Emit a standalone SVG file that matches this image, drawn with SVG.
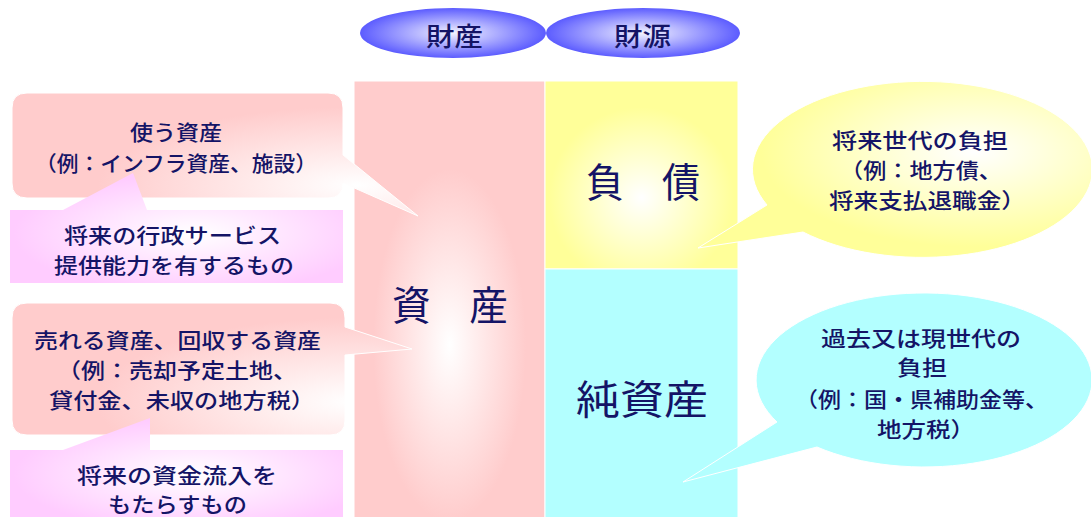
<svg xmlns="http://www.w3.org/2000/svg" width="1091" height="517" viewBox="0 0 1091 517">
<defs>
<radialGradient id="gBlue" cx="0.5" cy="0.5" r="0.5">
<stop offset="0" stop-color="#f4f4ff"/>
<stop offset="1" stop-color="#5c5cff"/>
</radialGradient>
<radialGradient id="gAsset" cx="0.5" cy="0.6" r="0.5">
<stop offset="0" stop-color="#ffffff"/>
<stop offset="0.8" stop-color="#ffcccc"/>
</radialGradient>
<radialGradient id="gLiab" cx="0.5" cy="0.62" r="0.6">
<stop offset="0" stop-color="#ffffff"/>
<stop offset="0.8" stop-color="#ffff99"/>
</radialGradient>
<radialGradient id="gPink" cx="0.85" cy="0.75" r="0.75">
<stop offset="0" stop-color="#ffffff"/>
<stop offset="0.85" stop-color="#ffcccc"/>
</radialGradient>
<radialGradient id="gLav" cx="0.55" cy="0.55" r="0.6">
<stop offset="0" stop-color="#ffffff"/>
<stop offset="0.9" stop-color="#ffccff"/>
</radialGradient>
<radialGradient id="gYel" cx="0.7" cy="0.4" r="0.6">
<stop offset="0" stop-color="#ffffff"/>
<stop offset="0.9" stop-color="#ffff99"/>
</radialGradient>
</defs>
<style>
text { font-family: "Noto Sans CJK JP", "Noto Sans", sans-serif; fill: #141466; }
.s { font-size: 21px; font-weight: 500; }
.m { font-size: 21px; font-weight: 500; }
.t { font-size: 26px; font-weight: 500; }
.b { font-size: 40px; }
.edge { stroke: #ffffff; stroke-width: 1; }
</style>

<g id="header-zaisan">
<ellipse cx="453" cy="33" rx="93" ry="25" fill="url(#gBlue)"/>
<text class="t" x="426" y="46" textLength="57" lengthAdjust="spacingAndGlyphs">財産</text>
</g>
<g id="header-zaigen">
<ellipse cx="643" cy="33" rx="97" ry="25" fill="url(#gBlue)"/>
<text class="t" x="614" y="46" textLength="57" lengthAdjust="spacingAndGlyphs">財源</text>
</g>

<g id="assets">
<rect x="354" y="81" width="191" height="440" fill="url(#gAsset)" class="edge"/>
<text class="b" x="392" y="320" textLength="116" lengthAdjust="spacingAndGlyphs">資　産</text>
</g>
<g id="liabilities">
<rect x="545" y="81" width="193" height="188" fill="url(#gLiab)" class="edge"/>
<text class="b" x="586" y="197" textLength="114" lengthAdjust="spacingAndGlyphs">負　債</text>
</g>
<g id="net-assets">
<rect x="545" y="269" width="193" height="252" fill="#b3ffff" class="edge"/>
<text class="b" x="576" y="414" textLength="132" lengthAdjust="spacingAndGlyphs">純資産</text>
</g>

<g id="callout-use-assets">
<path d="M27,93 H328 Q343,93 343,108 V155 L418,216 L343,183 Q343,198 328,198 H27 Q12,198 12,183 V108 Q12,93 27,93 Z" fill="url(#gPink)" class="edge"/>
<text class="s" x="130" y="140" textLength="92" lengthAdjust="spacingAndGlyphs">使う資産</text>
<text class="s" x="35" y="171" textLength="282" lengthAdjust="spacingAndGlyphs">（例：インフラ資産、施設）</text>
</g>
<g id="note-service">
<path d="M10,210 H63 L133,173 L147,210 H343 V283 H10 Z" fill="url(#gLav)"/>
<text class="m" x="64" y="243" textLength="217" lengthAdjust="spacingAndGlyphs">将来の行政サービス</text>
<text class="m" x="54" y="273" textLength="240" lengthAdjust="spacingAndGlyphs">提供能力を有するもの</text>
</g>

<g id="callout-sell-assets">
<path d="M27,303 H330 Q345,303 345,318 V327 L412,349 L345,355 V420 Q345,435 330,435 H27 Q12,435 12,420 V318 Q12,303 27,303 Z" fill="url(#gPink)" class="edge"/>
<text class="s" x="34" y="348" textLength="287" lengthAdjust="spacingAndGlyphs">売れる資産、回収する資産</text>
<text class="s" x="57" y="378" textLength="240" lengthAdjust="spacingAndGlyphs">（例：売却予定土地、</text>
<text class="s" x="49" y="408" textLength="266" lengthAdjust="spacingAndGlyphs">貸付金、未収の地方税）</text>
</g>
<g id="note-inflow">
<path d="M10,450 H63 L150,418 L150,450 H343 V521 H10 Z" fill="url(#gLav)"/>
<text class="m" x="77" y="483" textLength="200" lengthAdjust="spacingAndGlyphs">将来の資金流入を</text>
<text class="m" x="108" y="512" textLength="139" lengthAdjust="spacingAndGlyphs">もたらすもの</text>
</g>

<g id="callout-future-burden">
<path d="M767,205 A170,88 0 1,1 803,232 L698,248 Z" fill="url(#gYel)" class="edge"/>
<text class="s" x="832" y="148" textLength="176" lengthAdjust="spacingAndGlyphs">将来世代の負担</text>
<text class="s" x="840" y="178" textLength="162" lengthAdjust="spacingAndGlyphs">（例：地方債、</text>
<text class="s" x="829" y="208" textLength="197" lengthAdjust="spacingAndGlyphs">将来支払退職金）</text>
</g>

<g id="callout-past-burden">
<path d="M777,422 A168,87 0 1,1 817,447 L683,482 Z" fill="#b3ffff" class="edge"/>
<text class="s" x="821" y="346" textLength="200" lengthAdjust="spacingAndGlyphs">過去又は現世代の</text>
<text class="s" x="897" y="375" textLength="50" lengthAdjust="spacingAndGlyphs">負担</text>
<text class="s" x="795" y="407" textLength="253" lengthAdjust="spacingAndGlyphs">（例：国・県補助金等、</text>
<text class="s" x="877" y="437" textLength="98" lengthAdjust="spacingAndGlyphs">地方税）</text>
</g>
</svg>
